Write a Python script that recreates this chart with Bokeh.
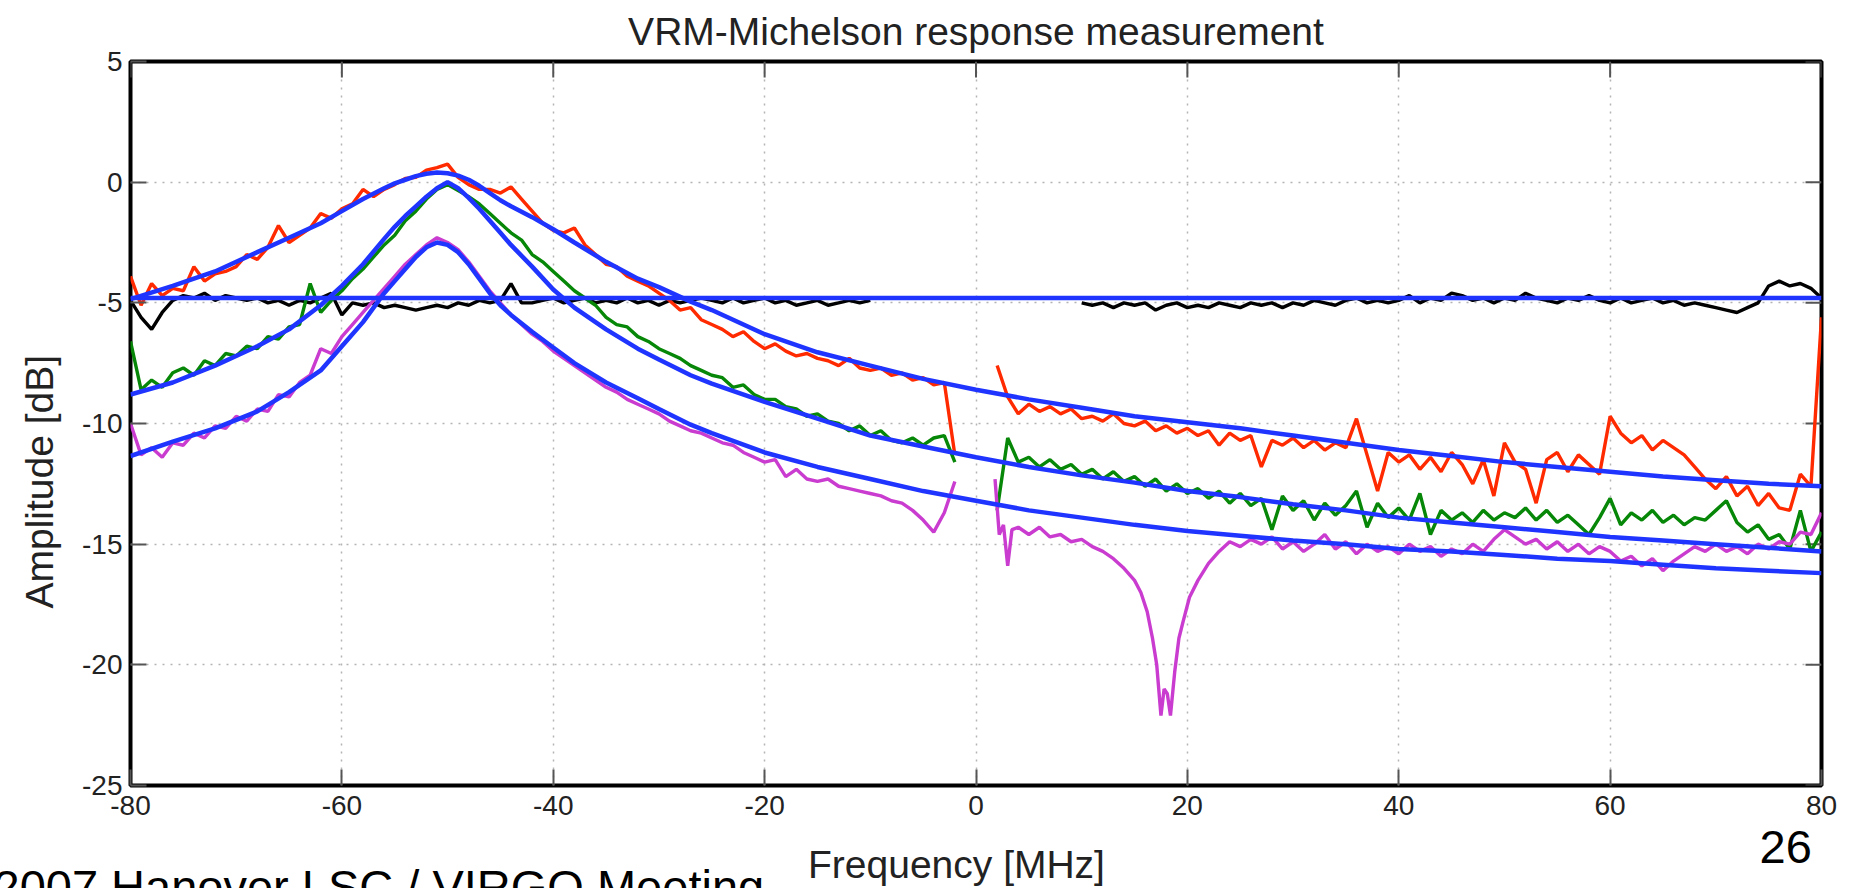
import math
from bokeh.plotting import figure
from bokeh.models import Label, FixedTicker, Range1d, GridBox, Title
from bokeh.embed import file_html
from bokeh.resources import INLINE

FONT = "Liberation Sans"

TITLE = "VRM-Michelson response measurement"
X_LABEL = "Frequency [MHz]"
Y_LABEL = "Amplitude [dB]"
FOOTER = "2007 Hanover LSC / VIRGO Meeting"
PAGE = "26"

X_TICKS = [-80, -60, -40, -20, 0, 20, 40, 60, 80]
Y_TICKS = [-25, -20, -15, -10, -5, 0, 5]

# ---------------- measured traces (dB) ----------------
FREQ_LEFT = list(range(-80, -1))      # -80 .. -2 MHz
FREQ_RIGHT = list(range(2, 81))       # 2 .. 80 MHz

RED_LEFT = [-3.9, -5.1, -4.2, -4.7, -4.4, -4.5, -3.5, -4.1, -3.8, -3.7,
            -3.5, -3.0, -3.2, -2.7, -1.8, -2.5, -2.2, -1.9, -1.3, -1.5,
            -1.1, -0.9, -0.3, -0.6, -0.3, -0.1, 0.15, 0.2, 0.5, 0.6,
            0.75, 0.2, -0.1, -0.3, -0.3, -0.45, -0.2, -0.7, -1.2, -1.7,
            -2.0, -2.1, -1.9, -2.6, -3.0, -3.4, -3.5, -3.9, -4.1, -4.3,
            -4.6, -4.9, -5.3, -5.2, -5.7, -5.9, -6.1, -6.4, -6.2, -6.6,
            -6.9, -6.7, -7.0, -7.2, -7.1, -7.3, -7.4, -7.6, -7.3, -7.7,
            -7.8, -7.7, -8.0, -7.9, -8.2, -8.1, -8.4, -8.3, -11.3]
RED_RIGHT = [-7.6, -8.9, -9.6, -9.2, -9.5, -9.3, -9.6, -9.4, -9.8, -9.7,
             -9.9, -9.6, -10.0, -10.1, -9.9, -10.3, -10.1, -10.4, -10.2, -10.5,
             -10.3, -10.9, -10.4, -10.7, -10.5, -11.8, -10.7, -10.9, -10.6, -11.0,
             -10.7, -11.1, -10.8, -11.0, -9.8, -11.3, -12.8, -11.2, -11.6, -11.3,
             -11.9, -11.4, -12.0, -11.2, -11.7, -12.5, -11.5, -13.0, -10.8, -11.6,
             -11.9, -13.3, -11.5, -11.2, -12.0, -11.3, -11.7, -12.1, -9.7, -10.4,
             -10.8, -10.5, -11.1, -10.7, -11.0, -11.3, -11.8, -12.3, -12.7, -12.2,
             -13.0, -12.6, -13.4, -12.9, -13.5, -13.6, -12.1, -12.6, -5.6]

GREEN_LEFT = [-6.6, -8.6, -8.2, -8.5, -7.9, -7.7, -8.0, -7.4, -7.6, -7.1,
              -7.2, -6.8, -6.9, -6.4, -6.5, -6.0, -5.9, -4.2, -5.4, -4.9,
              -4.5, -4.0, -3.6, -3.1, -2.6, -2.2, -1.6, -1.2, -0.7, -0.3,
              -0.1, -0.35, -0.6, -0.9, -1.3, -1.7, -2.1, -2.4, -3.0, -3.3,
              -3.7, -4.1, -4.5, -4.8, -5.1, -5.6, -5.9, -6.0, -6.4, -6.6,
              -6.9, -7.1, -7.3, -7.6, -7.8, -8.0, -8.1, -8.5, -8.4, -8.8,
              -9.0, -9.0, -9.3, -9.4, -9.7, -9.6, -9.9, -10.0, -10.3, -10.1,
              -10.5, -10.3, -10.7, -10.8, -10.6, -10.9, -10.6, -10.5, -11.6]
GREEN_RIGHT = [-13.6, -10.6, -11.6, -11.4, -11.8, -11.5, -11.9, -11.7, -12.1, -11.9,
               -12.3, -12.0, -12.4, -12.2, -12.6, -12.3, -12.8, -12.5, -12.9, -12.7,
               -13.1, -12.8, -13.3, -12.9, -13.4, -13.1, -14.4, -13.0, -13.6, -13.2,
               -14.0, -13.3, -13.8, -13.4, -12.8, -14.3, -13.3, -13.9, -13.5, -14.0,
               -12.9, -14.6, -13.6, -14.0, -13.7, -14.1, -13.6, -14.0, -13.7, -13.9,
               -13.5, -14.0, -13.6, -14.1, -13.8, -14.2, -14.6, -13.9, -13.1, -14.2,
               -13.7, -14.0, -13.6, -14.1, -13.8, -14.2, -13.9, -14.0, -13.6, -13.2,
               -14.1, -14.5, -14.2, -14.8, -14.6, -15.2, -13.6, -15.3, -14.5]

MAGENTA_LEFT = [-10.0, -11.3, -11.0, -11.4, -10.8, -10.9, -10.4, -10.6, -10.1, -10.2,
                -9.7, -9.9, -9.4, -9.5, -8.8, -8.9, -8.3, -8.0, -6.9, -7.1,
                -6.4, -5.9, -5.4, -4.9, -4.4, -3.9, -3.4, -3.0, -2.6, -2.3,
                -2.5, -2.8, -3.3, -3.9, -4.5, -5.0, -5.5, -5.9, -6.3, -6.6,
                -7.0, -7.3, -7.6, -7.9, -8.2, -8.5, -8.7, -9.0, -9.2, -9.4,
                -9.6, -9.9, -10.1, -10.3, -10.4, -10.6, -10.8, -10.9, -11.2, -11.4,
                -11.6, -11.5, -12.2, -11.9, -12.3, -12.4, -12.3, -12.6, -12.7, -12.8,
                -12.9, -13.0, -13.2, -13.3, -13.6, -14.0, -14.5, -13.7, -12.4]
MAGENTA_FREQ_RIGHT = [1.8, 2.2, 2.6, 3.0, 3.4, 4, 5, 6, 7, 8, 9, 10, 11, 12, 13, 14, 15,
                      15.6, 16.2, 16.7, 17.1, 17.5, 17.8, 18.1, 18.4, 18.8, 19.2, 19.6,
                      20.2, 21] + list(range(22, 81))
MAGENTA_RIGHT = [-12.3, -14.6, -14.2, -15.9, -14.4, -14.3, -14.6, -14.3, -14.7, -14.6,
                 -14.9, -14.8, -15.1, -15.3, -15.6, -16.0, -16.5,
                 -17.0, -17.8, -18.9, -20.0, -22.1, -21.0, -21.2, -22.1, -20.3, -18.9, -18.2,
                 -17.2, -16.5,
                 -15.8, -15.3, -14.9, -15.1, -14.8, -15.0, -14.7, -15.2, -14.9, -15.3,
                 -15.0, -14.6, -15.2, -14.9, -15.4, -15.0, -15.3, -15.1, -15.4, -15.0,
                 -15.3, -15.1, -15.5, -15.2, -15.4, -15.0, -15.3, -14.8, -14.4, -14.7,
                 -15.0, -14.8, -15.2, -14.9, -15.3, -15.0, -15.4, -15.1, -15.3, -15.7,
                 -15.5, -15.9, -15.6, -16.1, -15.7, -15.4, -15.1, -15.3, -15.0, -15.3,
                 -15.1, -15.4, -15.0, -15.2, -14.9, -15.0, -14.5, -14.6, -13.7]

BLACK_FREQ_LEFT = list(range(-80, -9))    # -80 .. -10
BLACK_FREQ_RIGHT = list(range(10, 81))    # 10 .. 80
BLACK_LEFT = [-4.9, -5.6, -6.1, -5.4, -4.9, -4.7, -4.8, -4.6, -4.9, -4.7,
              -4.8, -4.9, -4.8, -5.0, -4.9, -5.1, -4.9, -5.0, -4.8, -4.6,
              -5.5, -5.0, -5.1, -5.0, -5.2, -5.1, -5.2, -5.3, -5.2, -5.1,
              -5.2, -5.0, -5.1, -4.9, -5.0, -4.9, -4.2, -5.0, -5.0, -4.9,
              -4.8, -5.0, -4.9, -4.8, -5.0, -4.9, -5.0, -4.8, -5.0, -4.9,
              -5.1, -4.9, -5.0, -4.9, -4.8, -4.9, -5.0, -4.8, -5.0, -4.9,
              -4.8, -5.0, -4.9, -5.1, -5.0, -4.9, -5.1, -5.0, -4.9, -5.0,
              -4.9]
BLACK_RIGHT = [-5.0, -5.1, -5.0, -5.2, -5.0, -5.1, -5.0, -5.3, -5.1, -5.0,
               -5.2, -5.1, -5.2, -5.0, -5.1, -5.2, -5.0, -5.1, -5.0, -5.2,
               -5.0, -5.1, -4.9, -5.0, -5.1, -4.9, -4.8, -5.0, -4.9, -5.0,
               -4.9, -4.7, -5.0, -4.8, -4.9, -4.6, -4.7, -4.9, -4.8, -5.0,
               -4.8, -4.9, -4.6, -4.8, -4.9, -5.0, -4.8, -4.9, -4.7, -4.9,
               -5.0, -4.8, -5.0, -4.9, -4.8, -5.0, -4.9, -5.1, -5.0, -5.1,
               -5.2, -5.3, -5.4, -5.2, -5.0, -4.3, -4.1, -4.3, -4.2, -4.4,
               -4.8]

# ---------------- fitted responses (dB) ----------------
FIT_FREQ = [-80, -76, -72, -68, -65, -62, -60, -58, -56,
            -55, -54, -53, -52, -51, -50, -49, -48, -47, -46, -45, -44,
            -42, -40, -38, -35, -32, -30, -27, -25,
            -20, -15, -10, -5, 0,
            5, 10, 15, 20, 25, 30, 35, 40, 45, 50, 55, 60, 65, 70, 75, 80]
FIT_RED = [-4.85, -4.3, -3.7, -2.9, -2.3, -1.7, -1.2, -0.7, -0.25,
           -0.05, 0.1, 0.25, 0.35, 0.4, 0.37, 0.27, 0.1, -0.15, -0.45, -0.75, -1.0,
           -1.45, -1.95, -2.5, -3.3, -4.0, -4.35, -4.95, -5.3,
           -6.3, -7.05, -7.6, -8.15, -8.6,
           -9.0, -9.35, -9.7, -9.95, -10.2, -10.5, -10.8, -11.1, -11.35, -11.6, -11.8,
           -12.0, -12.2, -12.35, -12.5, -12.6]
FIT_GREEN = [-8.8, -8.3, -7.6, -6.8, -6.1, -5.1, -4.3, -3.4, -2.35,
             -1.85, -1.4, -1.0, -0.6, -0.25, 0.0, -0.25, -0.65, -1.1, -1.6, -2.1, -2.6,
             -3.5, -4.45, -5.2, -6.1, -6.9, -7.35, -8.0, -8.35,
             -9.1, -9.8, -10.5, -10.95, -11.4,
             -11.8, -12.15, -12.45, -12.8, -13.05, -13.35, -13.6, -13.9, -14.1, -14.3, -14.5,
             -14.7, -14.85, -15.0, -15.15, -15.3]
FIT_MAGENTA = [-11.35, -10.75, -10.2, -9.5, -8.7, -7.8, -6.8, -5.8, -4.6,
               -4.1, -3.6, -3.1, -2.7, -2.5, -2.6, -2.9, -3.4, -4.0, -4.6, -5.1, -5.5,
               -6.2, -6.85, -7.5, -8.3, -8.95, -9.4, -10.05, -10.4,
               -11.2, -11.8, -12.3, -12.8, -13.2,
               -13.6, -13.9, -14.2, -14.45, -14.65, -14.85, -15.0, -15.2, -15.3, -15.45, -15.6,
               -15.7, -15.85, -16.0, -16.1, -16.2]
FLAT_FREQ = [-80, 80]
FIT_FLAT = [-4.8, -4.8]

RED = "#ff2a00"
GREEN = "#078707"
MAGENTA = "#c93ccf"
BLACK = "#000000"
BLUE = "#1f35ff"
TEXT = "#222222"
TICK = "#555555"

W, H = 1852, 888
FRAME_LEFT, FRAME_TOP, FRAME_BOTTOM = 129, 61, 785
SLOT_PAGE = 51    # height of the bottom-panel slot that holds the page number
SLOT_XLABEL = 38  # height of the bottom-panel slot that holds the x-axis title

# ---------------- main plot ----------------
p = figure(width=W, height=H, output_backend="svg", toolbar_location=None,
           x_range=Range1d(-80, 80), y_range=Range1d(-25, 5),
           min_border_left=FRAME_LEFT, min_border_right=31, min_border_top=FRAME_TOP,
           min_border_bottom=H - FRAME_BOTTOM, title=TITLE)
p.background_fill_color = "white"
p.border_fill_color = "white"
p.outline_line_color = "black"
p.outline_line_width = 4

p.title.text_font = FONT
p.title.text_font_size = "39px"
p.title.text_font_style = "normal"
p.title.text_color = TEXT
p.title.align = "center"
p.title.vertical_align = "top"
p.title.standoff = 14

for ax in p.xaxis + p.yaxis:
    ax.major_label_text_font = FONT
    ax.major_label_text_font_size = "28px"
    ax.major_label_text_color = TEXT
    ax.major_tick_in = 16
    ax.major_tick_out = 0
    ax.major_tick_line_color = TICK
    ax.major_tick_line_width = 2
    ax.minor_tick_line_color = None
    ax.axis_line_color = None
p.xaxis.ticker = FixedTicker(ticks=X_TICKS)
p.yaxis.ticker = FixedTicker(ticks=Y_TICKS)
p.xaxis.major_label_overrides = {t: str(t) for t in X_TICKS}
p.yaxis.major_label_overrides = {t: str(t) for t in Y_TICKS}
p.xaxis.major_label_standoff = 10
p.yaxis.major_label_standoff = 8

for grid, ticks in ((p.xgrid, X_TICKS), (p.ygrid, Y_TICKS)):
    grid.ticker = FixedTicker(ticks=ticks)
    grid.grid_line_color = "#b4b4b4"
    grid.grid_line_dash = "2 6"
    grid.grid_line_width = 1.5

# inward ticks on the top and right edges of the box
p.ray(x=X_TICKS, y=[Y_TICKS[-1]] * len(X_TICKS), length=16, length_units="screen",
      angle=-math.pi / 2, line_color=TICK, line_width=2)
p.ray(x=[X_TICKS[-1]] * len(Y_TICKS), y=Y_TICKS, length=16, length_units="screen",
      angle=math.pi, line_color=TICK, line_width=2)

# measured traces
W_DATA = 3.4
p.line(BLACK_FREQ_LEFT, BLACK_LEFT, line_color=BLACK, line_width=W_DATA)
p.line(BLACK_FREQ_RIGHT, BLACK_RIGHT, line_color=BLACK, line_width=W_DATA)
p.line(FREQ_LEFT, RED_LEFT, line_color=RED, line_width=W_DATA)
p.line(FREQ_RIGHT, RED_RIGHT, line_color=RED, line_width=W_DATA)
p.line(FREQ_LEFT, GREEN_LEFT, line_color=GREEN, line_width=W_DATA)
p.line(FREQ_RIGHT, GREEN_RIGHT, line_color=GREEN, line_width=W_DATA)
p.line(FREQ_LEFT, MAGENTA_LEFT, line_color=MAGENTA, line_width=W_DATA)
p.line(MAGENTA_FREQ_RIGHT, MAGENTA_RIGHT, line_color=MAGENTA, line_width=W_DATA)

# fits
W_FIT = 4.5
p.line(FLAT_FREQ, FIT_FLAT, line_color=BLUE, line_width=W_FIT)
p.line(FIT_FREQ, FIT_RED, line_color=BLUE, line_width=W_FIT)
p.line(FIT_FREQ, FIT_GREEN, line_color=BLUE, line_width=W_FIT)
p.line(FIT_FREQ, FIT_MAGENTA, line_color=BLUE, line_width=W_FIT)

# y-axis title on the left panel (starts 177 px above the frame bottom)
p.add_layout(Title(text=Y_LABEL, align="left", offset=177, vertical_align="top",
                   standoff=34, text_font=FONT, text_font_size="39px",
                   text_font_style="normal", text_color=TEXT), "left")

# ---------------- transparent text layer (frame aligned with the main plot) ----------------
t = figure(width=W, height=H, output_backend="svg", toolbar_location=None,
           x_axis_location=None, y_axis_location=None, min_border=0,
           x_range=Range1d(0, 1), y_range=Range1d(0, 1))
t.outline_line_color = None
t.background_fill_color = None
t.border_fill_color = None
t.grid.visible = False


def text_label(text, x, y, size, color=TEXT, align="left"):
    return Label(x=x, y=y, x_units="screen", y_units="screen", text=text,
                 text_align=align, text_baseline="alphabetic",
                 text_font=FONT, text_font_size=size, text_color=color)


# footer: top panel (its bottom edge is the frame top); baseline at page y=886
t.add_layout(text_label(FOOTER, -8 - FRAME_LEFT, FRAME_TOP - 886, "47px", "black"), "above")
# page number: first bottom slot; baseline at page y=865
t.add_layout(text_label(PAGE, 1758 - FRAME_LEFT, FRAME_BOTTOM + SLOT_PAGE - 865, "47px",
                        "black"), "below")
# x-axis title: second bottom slot; centred at page x=955, baseline y=878
t.add_layout(text_label(X_LABEL, 955 - FRAME_LEFT,
                        FRAME_BOTTOM + SLOT_PAGE + SLOT_XLABEL - 878, "39px",
                        align="center"), "below")

layout = GridBox(children=[(p, 0, 0), (t, 0, 0)])
open("out.html", "w").write(file_html(layout, INLINE))
